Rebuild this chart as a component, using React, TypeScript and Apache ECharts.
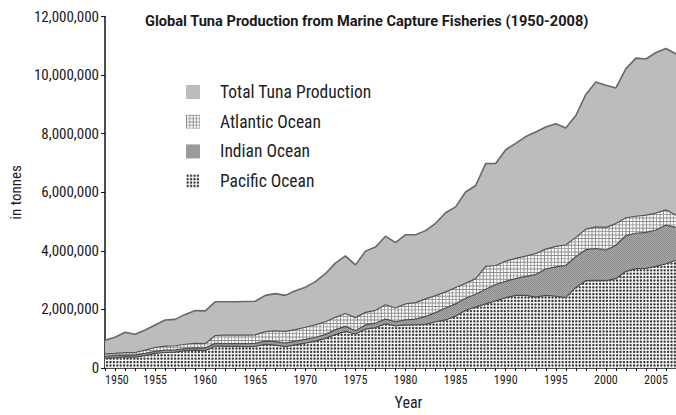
import React, { useEffect, useRef } from "react";
import * as echarts from "echarts";

const years = [
  "1950","1951","1952","1953","1954","1955","1956","1957","1958","1959",
  "1960","1961","1962","1963","1964","1965","1966","1967","1968","1969",
  "1970","1971","1972","1973","1974","1975","1976","1977","1978","1979",
  "1980","1981","1982","1983","1984","1985","1986","1987","1988","1989",
  "1990","1991","1992","1993","1994","1995","1996","1997","1998","1999",
  "2000","2001","2002","2003","2004","2005","2006","2007",
];

const totalTuna = [
  950000,1050000,1220000,1150000,1300000,1470000,1640000,1660000,1830000,1960000,
  1950000,2260000,2260000,2260000,2270000,2280000,2480000,2540000,2480000,2640000,
  2760000,2950000,3220000,3580000,3830000,3520000,3990000,4130000,4500000,4280000,
  4550000,4550000,4690000,4940000,5300000,5500000,6010000,6230000,6980000,6980000,
  7450000,7670000,7900000,8060000,8230000,8340000,8190000,8620000,9340000,9760000,
  9650000,9560000,10220000,10580000,10550000,10770000,10910000,10720000,
];

const pacific = [
  330000,350000,380000,370000,420000,500000,530000,540000,590000,610000,
  590000,750000,740000,740000,730000,740000,810000,780000,730000,790000,
  850000,920000,1010000,1140000,1250000,1160000,1330000,1380000,1510000,1440000,
  1470000,1470000,1490000,1580000,1640000,1770000,1970000,2080000,2190000,2290000,
  2400000,2480000,2480000,2420000,2480000,2450000,2400000,2750000,2980000,2990000,
  2980000,3050000,3300000,3390000,3400000,3470000,3560000,3680000,
];

const indian = [
  70000,70000,60000,70000,80000,70000,80000,80000,70000,80000,
  90000,90000,90000,90000,100000,100000,110000,120000,120000,130000,
  130000,130000,130000,170000,170000,110000,140000,150000,160000,140000,
  170000,200000,270000,310000,410000,420000,410000,440000,500000,560000,
  560000,570000,650000,770000,900000,1000000,1100000,1050000,1060000,1090000,
  1040000,1140000,1220000,1210000,1230000,1240000,1320000,1120000,
];

const atlantic = [
  80000,80000,90000,90000,110000,130000,140000,140000,150000,150000,
  150000,270000,290000,290000,290000,290000,320000,370000,400000,390000,
  410000,420000,440000,420000,440000,450000,430000,440000,490000,470000,
  550000,560000,600000,580000,550000,560000,510000,530000,780000,650000,
  690000,690000,690000,720000,680000,700000,700000,660000,700000,740000,
  780000,740000,610000,580000,590000,580000,520000,420000,
];

const yTicks = { min: 0, max: 12000000, interval: 2000000 };

const FONT = "'Liberation Sans Narrow', 'Roboto Condensed', 'DejaVu Sans Condensed', Roboto, sans-serif";
const TITLE_FONT = "Roboto, 'Liberation Sans', sans-serif";

function hexToRgb(h: string) {
  const v = parseInt(h.slice(1), 16);
  return [(v >> 16) & 255, (v >> 8) & 255, v & 255];
}

function makeTile(size: number, pick: (x: number, y: number) => boolean, on: string, off: string) {
  const c = document.createElement("canvas");
  c.width = size;
  c.height = size;
  const ctx = c.getContext("2d")!;
  const img = ctx.createImageData(size, size);
  const a = hexToRgb(on);
  const b = hexToRgb(off);
  for (let y = 0; y < size; y++) {
    for (let x = 0; x < size; x++) {
      const col = pick(x, y) ? a : b;
      const k = (y * size + x) * 4;
      img.data[k] = col[0];
      img.data[k + 1] = col[1];
      img.data[k + 2] = col[2];
      img.data[k + 3] = 255;
    }
  }
  ctx.putImageData(img, 0, 0);
  return c;
}

function pattern(canvas: HTMLCanvasElement) {
  return {
    image: canvas,
    repeat: "repeat",
    imageWidth: canvas.width,
    imageHeight: canvas.height,
    scaleX: 0.25,
    scaleY: 0.25,
  } as any;
}

export default function App() {
  const ref = useRef<HTMLDivElement>(null);

  useEffect(() => {
    if (!ref.current) return;
    const chart = echarts.init(ref.current, null, { renderer: "svg" });

    const P = 13.6;
    const pacTile = makeTile(68, (x, y) => {
      const dx = ((x + 0.5) % P) - P / 2;
      const dy = ((y + 0.5) % P) - P / 2;
      return dx * dx + dy * dy < 4.7 * 4.7;
    }, "#3c3c3c", "#f4f4f4");
    const atlTile = makeTile(68, (x, y) => ((x + 0.5) % P) < 3.6 || ((y + 0.5) % P) < 3.6, "#8e8e8e", "#fbfbfb");
    const indTile = makeTile(32, (x, y) => ((x - y + 64) % 8) < 3, "#6c6c6c", "#b6b6b6");

    const pacFill = pattern(pacTile);
    const atlFill = pattern(atlTile);
    const indFill = pattern(indTile);
    const totalFill = "#bcbcbe";

    const areaLine = (color: string, width: number) => ({ color, width });

    chart.setOption({
      animation: false,
      backgroundColor: "#ffffff",
      title: {
        text: "Global Tuna Production from Marine Capture Fisheries (1950-2008)",
        left: 145,
        top: 13,
        padding: 0,
        textStyle: { fontFamily: TITLE_FONT, fontSize: 14.6, fontWeight: "bold", color: "#1a1a1a" },
      },
      legend: {
        orient: "vertical",
        left: 186,
        top: 83,
        padding: 0,
        itemWidth: 14,
        itemHeight: 14,
        itemGap: 11.7,
        selectedMode: false,
        itemStyle: { borderWidth: 0 },
        textStyle: { fontFamily: FONT, fontSize: 17.5, color: "#222", padding: [0, 0, 0, 15] },
        data: [
          { name: "Total Tuna Production", icon: "rect", itemStyle: { color: totalFill, borderWidth: 0 } },
          { name: "Atlantic Ocean", icon: "rect", itemStyle: { color: atlFill, borderWidth: 0 } },
          { name: "Indian Ocean", icon: "rect", itemStyle: { color: indFill, borderWidth: 0 } },
          { name: "Pacific Ocean", icon: "rect", itemStyle: { color: pacFill, borderWidth: 0 } },
        ],
      },
      grid: { left: 95, right: 0, top: 16.5, bottom: 37.3, containLabel: false },
      xAxis: {
        type: "category",
        data: years,
        boundaryGap: false,
        name: "Year",
        nameLocation: "middle",
        nameGap: 26,
        nameTextStyle: { fontFamily: FONT, fontSize: 16, color: "#1a1a1a", padding: [0, 0, 0, 36] },
        axisLine: { lineStyle: { color: "#111", width: 1.5 } },
        axisTick: { show: true, interval: 0, length: 3, lineStyle: { color: "#111", width: 1 } },
        axisLabel: {
          interval: 4,
          margin: 6,
          alignMinLabel: "left",
          fontFamily: FONT,
          fontSize: 12,
          color: "#1a1a1a",
        },
        splitLine: { show: false },
      },
      yAxis: {
        type: "value",
        min: yTicks.min,
        max: yTicks.max,
        interval: yTicks.interval,
        name: "in tonnes",
        nameLocation: "middle",
        nameRotate: 90,
        nameGap: 80,
        nameTextStyle: { fontFamily: FONT, fontSize: 15, color: "#1a1a1a" },
        axisLine: { show: true, lineStyle: { color: "#111", width: 1.5 } },
        axisTick: { show: true, length: 4, lineStyle: { color: "#111", width: 1 } },
        axisLabel: {
          margin: 6,
          fontFamily: FONT,
          fontSize: 15,
          color: "#1a1a1a",
          formatter: (v: number) => v.toLocaleString("en-US"),
        },
        splitLine: { show: false },
      },
      series: [
        {
          name: "Total Tuna Production",
          type: "line",
          data: totalTuna,
          showSymbol: false,
          lineStyle: areaLine("#686868", 1.6),
          itemStyle: { color: totalFill },
          areaStyle: { color: totalFill, opacity: 1 },
          z: 1,
        },
        {
          name: "Pacific Ocean",
          type: "line",
          stack: "oceans",
          data: pacific,
          showSymbol: false,
          lineStyle: areaLine("#4a4a4a", 1.2),
          itemStyle: { color: pacFill },
          areaStyle: { color: pacFill, opacity: 1 },
          z: 2,
        },
        {
          name: "Indian Ocean",
          type: "line",
          stack: "oceans",
          data: indian,
          showSymbol: false,
          lineStyle: areaLine("#4e4e4e", 1.2),
          itemStyle: { color: indFill },
          areaStyle: { color: indFill, opacity: 1 },
          z: 2,
        },
        {
          name: "Atlantic Ocean",
          type: "line",
          stack: "oceans",
          data: atlantic,
          showSymbol: false,
          lineStyle: areaLine("#555555", 1.2),
          itemStyle: { color: atlFill },
          areaStyle: { color: atlFill, opacity: 1 },
          z: 2,
        },
      ],
    });

    return () => chart.dispose();
  }, []);

  return (
    <div
      ref={ref}
      style={{ position: "fixed", left: 0, top: 0, width: 676, height: 415 }}
    />
  );
}
